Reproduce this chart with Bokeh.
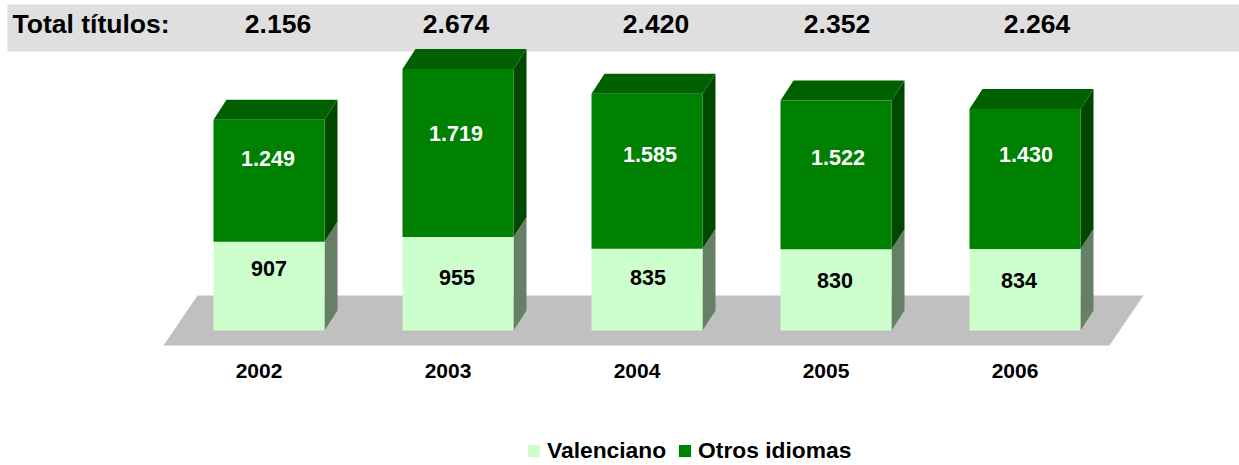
from bokeh.embed import file_html
from bokeh.resources import INLINE
from bokeh.plotting import figure
from bokeh.models import (BoxAnnotation, ColumnDataSource, FixedTicker, Legend,
                          LegendItem, Range1d)
from bokeh.core.properties import value

# ---- data ----
years = ["2002", "2003", "2004", "2005", "2006"]
valenciano = [907, 955, 835, 830, 834]
otros = [1249, 1719, 1585, 1522, 1430]
totales = [2156, 2674, 2420, 2352, 2264]
total_title = "Total títulos:"
valenciano_name = "Valenciano"
otros_name = "Otros idiomas"


def es(n):
    return f"{n:,}".replace(",", ".")


# ---- layout constants (pixels) ----
W, H = 1239, 465
BASE_PX = 330
PX_PER_X = 189.0
X0_PX = 258.5
PX_PER_Y = 0.0978
BAR_W = 111
BAR_SHIFT = 10
DX, DY = 13, 20
FONT = value("Liberation Sans")


def ux(px):
    return px / PX_PER_X


def uy(px):
    return px / PX_PER_Y


x_range = Range1d(-X0_PX / PX_PER_X, (W - X0_PX) / PX_PER_X)
y_range = Range1d(uy(BASE_PX - H), uy(BASE_PX))

p = figure(width=W, height=H, x_range=x_range, y_range=y_range,
           output_backend="svg", toolbar_location=None,
           min_border=0,
           background_fill_color="white", border_fill_color="white",
           outline_line_color=None)
p.grid.visible = False
p.yaxis.visible = False

# header band
p.add_layout(BoxAnnotation(left=ux(7 - X0_PX), right=ux(W - X0_PX),
                           top=uy(BASE_PX - 4), bottom=uy(BASE_PX - 51),
                           fill_color="#DFDFDF", fill_alpha=1, line_color=None,
                           level="underlay"))

# floor
n = len(years)
fl, fr = ux(163 - X0_PX), ux(1109 - X0_PX)
fskew = ux(34)
fb, ft = uy(BASE_PX - 345), uy(BASE_PX - 295)
p.patch([fl, fr, fr + fskew, fl + fskew], [fb, fb, ft, ft],
        fill_color="#C0C0C0", line_color=None)

# bars
xs = [i + ux(BAR_SHIFT) for i in range(n)]
hw = ux(BAR_W / 2)
dx, dy = ux(DX), uy(DY)
tops = [v + o for v, o in zip(valenciano, otros)]
src = ColumnDataSource(dict(x=xs, v=valenciano, t=tops, zero=[0] * n))


def side(lo, hi):
    return ([[x + hw, x + hw + dx, x + hw + dx, x + hw] for x in xs],
            [[a, a + dy, b + dy, b] for a, b in zip(lo, hi)])


sx, sy = side([0] * n, valenciano)
p.patches(sx, sy, fill_color="#668066", line_color=None)
sx, sy = side(valenciano, tops)
p.patches(sx, sy, fill_color="#004800", line_color=None)
p.patches([[x - hw, x + hw, x + hw + dx, x - hw + dx] for x in xs],
          [[t, t, t + dy, t + dy] for t in tops],
          fill_color="#006000", line_color=None)
r_v = p.vbar(x="x", bottom="zero", top="v", width=2 * hw, source=src,
             fill_color="#CCFFCC", line_color=None)
r_o = p.vbar(x="x", bottom="v", top="t", width=2 * hw, source=src,
             fill_color="#008000", line_color=None)

# segment labels
off_o = dict(x=[-1, -2, 3, 2, 1], y=[-22, -20, -17, -17, -25])
off_v = dict(x=[0, -1, 1, -1, -6], y=[-18, -6, -12, -9, -9])
p.text(xs, [v + o / 2 for v, o in zip(valenciano, otros)],
       text=[es(o) for o in otros], x_offset=off_o["x"], y_offset=off_o["y"],
       text_color="white", text_font=FONT, text_font_style="bold",
       text_font_size="21.5px", text_align="center", text_baseline="middle")
p.text(xs, [v / 2 for v in valenciano],
       text=[es(v) for v in valenciano], x_offset=off_v["x"], y_offset=off_v["y"],
       text_color="black", text_font=FONT, text_font_style="bold",
       text_font_size="21.5px", text_align="center", text_baseline="middle")

# totals row
row_y = uy(BASE_PX - 23)
off_t = [9, -2, 9, 1, 12]
p.text(xs, [row_y] * n, text=[es(t) for t in totales], x_offset=off_t,
       text_color="black", text_font=FONT, text_font_style="bold",
       text_font_size="26.5px", text_align="center", text_baseline="middle")
p.text([ux(12 - X0_PX)], [row_y], text=[total_title],
       text_color="black", text_font=FONT, text_font_style="bold",
       text_font_size="26.5px", text_align="left", text_baseline="middle")

# axis, fixed inside the frame just under the floor
ax = p.xaxis[0]
ax.fixed_location = uy(BASE_PX - 346)
ax.ticker = FixedTicker(ticks=list(range(n)))
ax.major_label_overrides = {i: y for i, y in enumerate(years)}
ax.axis_line_color = None
ax.major_tick_line_color = None
ax.minor_tick_line_color = None
ax.major_label_standoff = 11
ax.major_label_text_font = "Liberation Sans"
ax.major_label_text_font_style = "bold"
ax.major_label_text_font_size = "21px"
ax.major_label_text_color = "black"

# legend
legend = Legend(items=[LegendItem(label=valenciano_name, renderers=[r_v]),
                       LegendItem(label=otros_name, renderers=[r_o])],
                orientation="horizontal", location=(526, 1),
                background_fill_alpha=0, border_line_color=None,
                glyph_width=15, glyph_height=15, label_standoff=6, spacing=11,
                padding=0, margin=0,
                label_text_font="Liberation Sans", label_text_font_style="bold",
                label_text_font_size="22.8px", label_text_color="black")
p.add_layout(legend, "center")

open("out.html", "w").write(file_html(p, INLINE))
